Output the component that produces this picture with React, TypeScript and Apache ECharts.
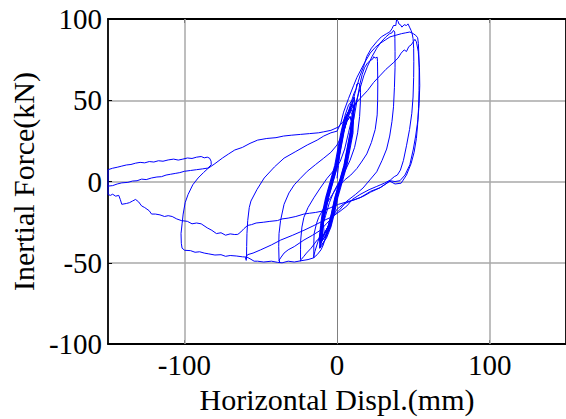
import React, { useEffect, useRef } from "react";
import * as echarts from "echarts";

// ---- data (x: horizontal displacement mm, y: inertial force kN) ----
const xTickValues = [-100, 0, 100];
const yTickValues = [-100, -50, 0, 50, 100];

const elasticCycles: number[][] = [
  [0, 2], [1, 10], [2, 20], [4, 30], [6.5, 37], [8.5, 40], [9.5, 37], [9, 30], [7, 20], [5, 10], [2, 0], [-1, -10], [-3.3, -20], [-5.5, -27], [-8.4, -32],
  [-9, -26], [-8.3, -20], [-6, -10], [-3, 0], [0, 10], [2, 20], [4, 30], [6.5, 37], [8.5, 40], [9.5, 37], [9, 30], [7, 20], [5, 10], [2, 0], [-1, -10],
  [-3.3, -20], [-5.5, -27], [-8.4, -32], [-9.8, -36],
  [-10.3, -30], [-9.3, -20], [-7, -10], [-4, 0], [-1, 10], [1, 20], [3, 30], [5, 38], [7.5, 42], [9.6, 44], [10.5, 41], [10, 30], [8, 20], [6, 10],
  [3, 0], [0, -10], [-2.3, -20], [-4.5, -28], [-7, -33], [-9.8, -36], [-10.8, -38],
  [-10.8, -32], [-8.8, -20], [-6.5, -10], [-3.5, 0], [-0.5, 10], [1.5, 20], [3.5, 30], [5.5, 38], [8, 44], [10.2, 47], [11, 44], [10.2, 38], [9.5, 30],
  [7.5, 20], [5.5, 10], [2.5, 0], [-0.5, -10], [-2.8, -20], [-5, -28], [-7.8, -34], [-10.8, -38], [-10.2, -35],
  [-9.8, -28], [-7.8, -20], [-5.5, -10], [-2.5, 0], [0.5, 10], [2.5, 20], [4.5, 30], [6.5, 40], [8.8, 46], [10.8, 50], [11.2, 48], [10.5, 40], [8.5, 30],
  [6.5, 20], [4.5, 10], [1.5, 0], [-1.5, -10], [-3.8, -20], [-6, -28], [-8.8, -34], [-10.2, -35], [-11, -40],
  [-11.5, -34], [-10.8, -27], [-9.8, -20], [-7.5, -10], [-4.5, 0], [-1.5, 10], [0.5, 20], [2.5, 30], [4.5, 38], [7.5, 43], [9.6, 45], [10.5, 42],
  [10.5, 35], [10.5, 30], [8.5, 20], [6.5, 10], [3.5, 0], [0.5, -10], [-1.8, -20], [-4, -28], [-7, -35], [-11, -40], [-10.5, -37],
  [-10.6, -30], [-8.6, -20], [-6.3, -10], [-3.3, 0], [-0.3, 10], [1.7, 20], [3.7, 30], [5.7, 40], [8.5, 45], [10.2, 48], [11, 45], [10.5, 40],
  [9.3, 30], [7.3, 20], [5.3, 10], [2.3, 0], [-0.7, -10], [-3, -20], [-5.3, -28], [-8, -34], [-10.5, -37], [-11.3, -41],
  [-11.2, -33], [-9.3, -20], [-7, -10], [-4, 0], [-1, 10], [1, 20], [3, 30], [5, 40], [7.5, 47], [10, 50], [11.3, 52], [11.6, 49], [11, 40], [10, 30],
  [8, 20], [6, 10], [3, 0], [0, -10], [-2.3, -20], [-4.5, -28], [-7.5, -35], [-9.5, -39], [-11.3, -41], [-9.5, -34],
  [-9.5, -28], [-8, -20], [-5.7, -10], [-2.7, 0], [0.3, 10], [2.3, 20], [4.3, 30], [6.5, 38], [8.8, 43], [9.8, 41], [8.7, 30], [6.7, 20], [4.7, 10],
  [1.7, 0], [-1.3, -10], [-3.6, -20], [-6, -28], [-9.5, -34], [-11.2, -36],
];

const loopB: number[][] = [
  [-10.5, -28], [-9, -20], [-7, -10], [-4, 0], [-1, 10], [1.5, 20], [4, 30], [6.5, 40], [9, 48], [11, 54], [12.5, 57], [13, 60], [14.2, 60.5],
  [15.2, 59], [15.4, 55], [15.3, 49], [14.8, 40], [13.5, 30], [11.5, 21], [8.5, 13], [5, 6], [1.5, 0], [-2, -6], [-5, -13], [-7.5, -21], [-10, -29],
  [-12.5, -37], [-14.5, -43], [-15.3, -46], [-15.2, -47],
];

const loopC: number[][] = [
  [-15.2, -44], [-15.2, -38], [-15, -32], [-13.5, -26], [-12, -22], [-8.5, -16], [-4.4, -10], [-1, -5], [2.1, 0], [4.5, 8], [6.5, 16], [8.5, 26],
  [10.5, 36], [12, 44], [13.5, 52], [15, 60], [16.5, 66], [18, 70], [20, 73], [22, 74.5], [23.5, 75.5], [24, 76.8], [25, 76], [26.3, 76.5], [26.5, 74],
  [26.6, 68], [26.7, 60], [26.6, 50], [26.3, 41], [25, 32], [22.5, 24], [19.5, 17], [16, 12], [13, 8], [9, 4], [5, 1], [2.1, -2], [-0.5, -12],
  [-2.5, -20], [-4.4, -28], [-8, -32], [-13, -36], [-17, -41], [-20, -44], [-21.7, -46], [-23.5, -48], [-24, -49],
];

const loopD: number[][] = [
  [-23.9, -48], [-23.9, -42], [-23.8, -36], [-23, -28], [-21.7, -22], [-19, -16], [-15.2, -10], [-11, -4], [-6.5, 2], [-2, 7], [2.1, 12.4], [5, 20],
  [7.5, 30], [10, 40], [12.5, 49], [15, 57], [17.5, 65], [20, 71], [23, 77], [26, 82], [29, 86], [32, 89], [34.5, 91], [36, 91.5], [37, 93], [37.8, 92],
  [37.9, 88], [38, 80], [38, 70], [37.6, 58], [37, 46], [36, 37], [34.5, 28], [32.5, 20], [29.5, 13], [26, 6], [21.5, 1], [17, -4], [12, -8], [6.5, -12],
  [2, -17], [-3, -22], [-7, -26], [-10.9, -30], [-16, -33], [-21.7, -36], [-28, -40], [-32, -42], [-34.7, -44], [-37, -47], [-38, -48.5], [-37.5, -49.8],
];

const loopE: number[][] = [
  [-38, -48], [-38.2, -40], [-38, -32], [-37, -24], [-34.7, -14], [-31.5, -7], [-28, -2], [-24, 2], [-19.5, 6.3], [-14, 10.5], [-8.7, 14.4], [-4, 18],
  [0, 22.5], [3, 28], [5.5, 35], [8, 42], [10.5, 50], [12.5, 57], [15, 65], [17.5, 71], [19.5, 77], [22.5, 82], [26, 86], [29, 89], [32.5, 91], [34.5, 92],
  [36, 94], [37, 96], [38.5, 96], [39, 99.5], [40, 98.5], [40.5, 97], [41.5, 96.5], [42.5, 95], [44, 96.5], [45.5, 96], [46.5, 97], [47.5, 95], [48.5, 93],
  [49.2, 91], [49.8, 88], [50.2, 82], [50.3, 74], [50.2, 64], [49.8, 52], [49, 42], [47.5, 32], [45.5, 22], [43.5, 13], [41.5, 7], [39.5, 4], [37.5, 3],
  [35, 1], [31, -1], [26, -3], [21, -5], [15, -8], [10, -11], [6.5, -15], [1, -19], [-4, -22], [-8.7, -24], [-15, -27], [-21.7, -30], [-29, -33],
  [-36.9, -36], [-43, -39], [-50, -42], [-55, -44], [-58.6, -45], [-60, -47], [-59.5, -48.5],
];

const loopF: number[][] = [
  [-59.3, -48], [-59.2, -40], [-59, -32], [-58.5, -24], [-57.5, -16], [-56.4, -12], [-52.5, -5], [-47.7, 2.2], [-41, 9], [-34.7, 14.4], [-27, 18.5],
  [-19.5, 22.5], [-13, 25.5], [-8.7, 28], [-4, 30], [0, 31], [2.5, 36], [4.3, 42.7], [7.5, 51], [10.8, 58.9], [13, 64], [15.2, 68], [18, 73], [21.7, 79],
  [25, 82.5], [28.2, 85], [31.5, 87], [34.7, 89], [38.5, 90], [42.3, 91], [45, 91.5], [47.7, 92], [49.9, 91], [51.5, 90], [52.8, 88.5], [53.3, 85],
  [53.6, 78], [53.8, 68], [53.7, 56], [53.4, 45], [52.8, 35], [52, 26.5], [50.5, 18], [48.5, 11], [45.5, 4], [42, -1], [38, -1.5], [34.7, 0.2],
  [28.2, -3.8], [22, -6], [15.2, -9.9], [9, -12], [4, -14], [0, -17], [-3, -22], [-5.5, -28], [-7.5, -34], [-9, -39], [-10.5, -42], [-13, -45],
  [-15.5, -47], [-19, -48], [-24, -48.8], [-28, -49.5], [-32, -49], [-36, -50], [-39, -49.7], [-43, -49], [-48, -49.5], [-52, -49], [-54.3, -49],
  [-57, -47.5], [-59, -46.5], [-62, -46.3], [-66, -45.8], [-70, -45.5], [-73, -46], [-76, -45], [-80, -45.2], [-84, -44.5], [-87, -44], [-90, -43.2],
  [-93, -43.5], [-96, -42.5], [-99.8, -42.3], [-101.5, -41],
];

const finalRun: number[][] = [
  [-102, -38], [-102.2, -32], [-101.5, -26], [-100.8, -20], [-99.5, -13], [-97.6, -8], [-94.5, -2], [-91, 2.2], [-87.5, 5.5], [-84.6, 8], [-80, 11],
  [-75, 14.5], [-71, 17], [-67, 19.4], [-62, 21], [-57, 23.5], [-52, 25.5], [-46, 26.5], [-40, 27], [-35, 28], [-30, 28.5], [-24, 29], [-18, 29.5],
  [-12, 30], [-8.7, 30.6], [-4, 31.5], [1, 33.6], [5, 38], [10.8, 46.7], [15, 51], [20, 56], [24, 61], [28, 65], [32, 69], [36.8, 73], [40, 76],
  [42, 79], [44, 81], [45.5, 80], [47, 83], [48.5, 84], [50, 86], [51, 87.5], [52, 86], [53.2, 80], [54, 70], [54.2, 59], [53.8, 48], [53, 38],
  [51.5, 28], [50, 20], [47.7, 10.3], [44.5, 4], [41.2, 0.5], [38, 0], [34.7, 0.5], [31, -2], [28.2, -3.8], [22, -6.5], [17.4, -9], [12, -11],
  [6.5, -12.5], [1, -14], [-4, -16], [-8.7, -18], [-14, -19], [-18, -19.5], [-21.7, -20], [-27, -21.5], [-32, -22.5], [-36, -23], [-39, -24],
  [-44, -24.5], [-48, -25], [-53, -25.5], [-56, -26.5], [-58.6, -27], [-61, -29], [-63, -31], [-65, -32.5], [-67, -32.6], [-70, -32.2], [-73, -33],
  [-76, -31.5], [-79, -32], [-82, -30], [-85, -28.5], [-89, -26], [-92, -25.5], [-95, -26], [-98, -24.5], [-102, -24], [-105, -23], [-108, -21.5],
  [-110.6, -21], [-113, -21.5], [-116, -20.5], [-119, -20], [-121.5, -20], [-123, -18], [-126, -16], [-128, -15], [-130, -12.5], [-132, -11],
  [-134, -12], [-136, -13], [-138, -13.5], [-141, -14], [-142, -11], [-143, -8.5], [-145, -9], [-147, -7.8], [-148.5, -8.5], [-150, -8], [-150, -2.8],
  [-147, -2.5], [-144, -1.5], [-141, -0.8], [-137, -0.5], [-134, 0.3], [-131, 0.5], [-128, 1.5], [-125, 1.2], [-121.5, 2.2], [-118, 2.8], [-115, 3],
  [-112, 4], [-109, 4.5], [-106, 5], [-103, 5.5], [-100, 6.3], [-96, 6.8], [-92, 7.3], [-88, 7.8], [-84.6, 8.3], [-82.4, 10.3], [-82.5, 12.5],
  [-83.5, 14.4], [-85, 15], [-87, 14.6], [-89, 15.4], [-92, 15], [-95, 14.2], [-98, 14.5], [-101, 13.8], [-104, 13.2], [-107, 13.8], [-110.6, 13.3],
  [-114, 12.5], [-117, 12.8], [-120, 12], [-123, 12.3], [-126, 11.5], [-129, 11.8], [-132, 11.3], [-135, 10.5], [-138, 10.2], [-141, 9.5],
  [-144, 8.8], [-147, 8.2], [-150, 7.3], [-150, -2.8],
];

const FONT = "'Liberation Serif', 'Times New Roman', serif";

export default function App() {
  const ref = useRef<HTMLDivElement>(null);
  useEffect(() => {
    if (!ref.current) return;
    const chart = echarts.init(ref.current, null, { renderer: "svg" });
    const data = [
      ...elasticCycles,
      ...loopB,
      ...loopC,
      ...loopD,
      ...loopE,
      ...loopF,
      ...finalRun,
    ];
    const axisLine = { show: true, onZero: false, lineStyle: { color: "#000", width: 1.8 } };
    const tickStyle = { color: "#000", width: 1 };
    chart.setOption({
      animation: false,
      backgroundColor: "#fff",
      grid: { left: 107, top: 19, width: 460, height: 330, containLabel: false },
      xAxis: [
        {
          type: "value",
          min: -150,
          max: 150,
          position: "bottom",
          axisLine,
          axisTick: { show: true, inside: true, length: 4, customValues: xTickValues, lineStyle: tickStyle },
          axisLabel: { customValues: xTickValues, fontFamily: FONT, fontSize: 29, color: "#000", margin: 6 },
          splitLine: { show: false },
          name: "Horizontal Displ.(mm)",
          nameLocation: "middle",
          nameGap: 38,
          nameTextStyle: { fontFamily: FONT, fontSize: 30, color: "#000" },
        },
        {
          type: "value",
          min: -150,
          max: 150,
          position: "top",
          axisLine,
          axisTick: { show: true, inside: true, length: 4, customValues: xTickValues, lineStyle: tickStyle },
          axisLabel: { show: false },
          splitLine: { show: false },
        },
      ],
      yAxis: [
        {
          type: "value",
          min: -100,
          max: 100,
          interval: 50,
          position: "left",
          axisLine,
          axisTick: { show: true, inside: true, length: 4, customValues: yTickValues, lineStyle: tickStyle },
          axisLabel: { fontFamily: FONT, fontSize: 29, color: "#000", margin: 6 },
          splitLine: { show: true, lineStyle: { color: "#a8a8a8", width: 1.5 } },
          name: "Inertial Force(kN)",
          nameLocation: "middle",
          nameGap: 64,
          nameRotate: 90,
          nameTextStyle: { fontFamily: FONT, fontSize: 30, color: "#000" },
        },
        {
          type: "value",
          min: -100,
          max: 100,
          interval: 50,
          position: "right",
          axisLine,
          axisTick: { show: false },
          axisLabel: { show: false },
          splitLine: { show: false },
        },
      ],
      series: [
        {
          type: "line",
          data,
          showSymbol: false,
          symbol: "none",
          clip: true,
          z: 10,
          lineStyle: { color: "#0000ff", width: 1 },
          markLine: {
            silent: true,
            symbol: "none",
            z: 1,
            animation: false,
            label: { show: false },
            lineStyle: { color: "#a8a8a8", type: "solid", width: 1.5 },
            data: [
              { xAxis: -100 },
              { xAxis: 0, lineStyle: { color: "#808080", type: "solid", width: 1 } },
              { xAxis: 100 },
            ],
          },
        },
      ],
    });
    return () => chart.dispose();
  }, []);
  return (
    <div
      ref={ref}
      style={{ position: "fixed", left: 0, top: 0, width: 566, height: 419, background: "#fff" }}
    />
  );
}
